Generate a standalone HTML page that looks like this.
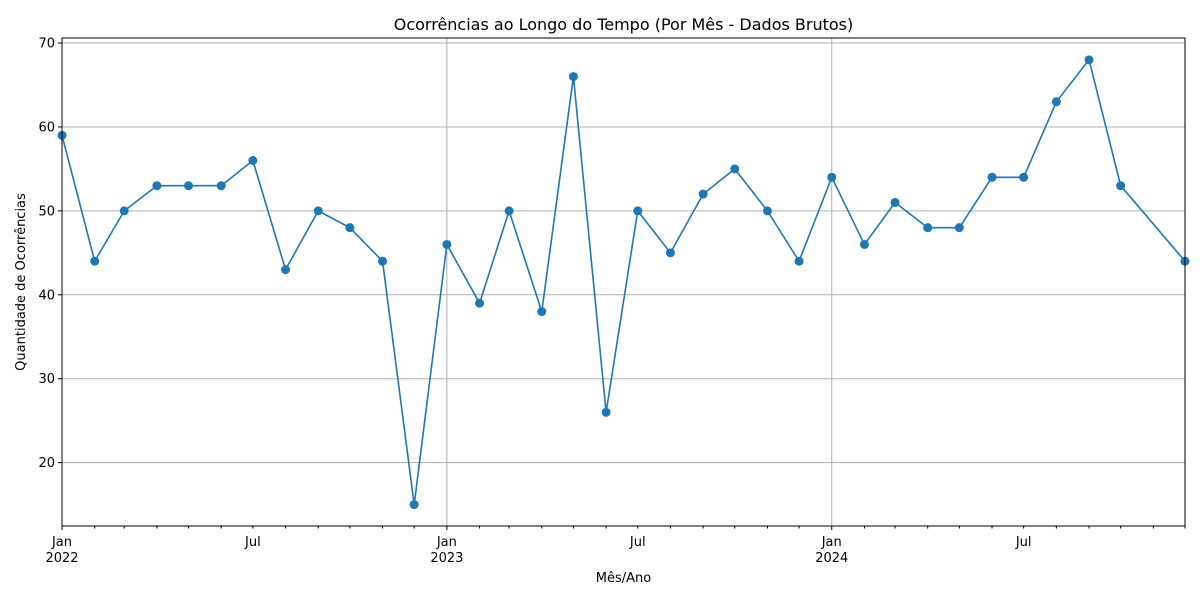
<!DOCTYPE html>
<html><head><meta charset="utf-8"><style>
html,body{margin:0;padding:0;background:#fff;}
svg{display:block;font-family:"DejaVu Sans","Liberation Sans",sans-serif;}
</style></head><body>
<svg id="chart" width="1200" height="600"></svg>
<script>
const months = ["2022-01","2022-02","2022-03","2022-04","2022-05","2022-06","2022-07","2022-08","2022-09","2022-10","2022-11","2022-12",
"2023-01","2023-02","2023-03","2023-04","2023-05","2023-06","2023-07","2023-08","2023-09","2023-10","2023-11","2023-12",
"2024-01","2024-02","2024-03","2024-04","2024-05","2024-06","2024-07","2024-08","2024-09","2024-10","2024-12"];
const counts = [59,44,50,53,53,53,56,43,50,48,44,15,46,39,50,38,66,26,50,45,52,55,50,44,54,46,51,48,48,54,54,63,68,53,44];
const yTicks = [20,30,40,50,60,70];
const majorTicks = [["2022-01","Jan","2022"],["2022-07","Jul",""],["2023-01","Jan","2023"],["2023-07","Jul",""],["2024-01","Jan","2024"],["2024-07","Jul",""]];

const NS="http://www.w3.org/2000/svg";
const svg=document.getElementById('chart');
const L=62,R=1185,T=38,B=526;
const d0=Date.UTC(2022,0,1), d1=Date.UTC(2024,11,1);
function dayOf(m){const [y,mo]=m.split('-').map(Number);return Date.UTC(y,mo-1,1);}
function x(m){return L+(dayOf(m)-d0)/(d1-d0)*(R-L);}
const yMin=12.45,yMax=70.6;
function y(v){return B-(v-yMin)/(yMax-yMin)*(B-T);}
function el(tag,attrs,txt){const e=document.createElementNS(NS,tag);for(const k in attrs)e.setAttribute(k,attrs[k]);if(txt!==undefined)e.textContent=txt;svg.appendChild(e);return e;}

// grid
yTicks.forEach(v=>{
  const g=el('line',{x1:L,x2:R,y1:y(v),y2:y(v),stroke:'#b0b0b0','stroke-width':1});
  
  
});
majorTicks.filter(t=>t[1]==='Jan'&&t[0]!=='2022-01').forEach(t=>{
  const g=el('line',{x1:x(t[0]),x2:x(t[0]),y1:T,y2:B,stroke:'#b0b0b0','stroke-width':1});
  
  
});

// line
const pts=months.map((m,i)=>x(m).toFixed(2)+','+y(counts[i]).toFixed(2)).join(' ');
const pl=el('polyline',{points:pts,fill:'none',stroke:'#1f77b4','stroke-width':1.6});


months.forEach((m,i)=>{
  const c=el('circle',{cx:x(m),cy:y(counts[i]),r:4.5,fill:'#1f77b4'});
  
  
});

// axes frame
const fr=el('rect',{x:L,y:T,width:R-L,height:B-T,fill:'none',stroke:'#000','stroke-width':1});



// y ticks
yTicks.forEach(v=>{
  const t=el('line',{x1:L-4,x2:L,y1:y(v),y2:y(v),stroke:'#000'});
  
  
  const lb=el('text',{x:L-7,y:y(v)+4.5,'text-anchor':'end','font-size':13,fill:'#000'},String(v));
  
  
});
// x minor ticks monthly
for(let i=0;i<36;i++){
  const yy=2022+Math.floor(i/12), mo=i%12+1;
  const m=yy+'-'+String(mo).padStart(2,'0');
  const xx=x(m); if(xx>R+0.5)break;
  const major=mo===1;
  const t=el('line',{x1:xx,x2:xx,y1:B,y2:B+(major?4:2.5),stroke:'#000'});
  
  
}
majorTicks.forEach(tk=>{
  const xx=x(tk[0]);
  const lb=el('text',{x:xx,y:B+20,'text-anchor':'middle','font-size':13,fill:'#000'},tk[1]);
  
  
  if(tk[2]){
    const yl=el('text',{x:xx,y:B+36,'text-anchor':'middle','font-size':13,fill:'#000'},tk[2]);
    
    
  }
});

const title=el('text',{x:(L+R)/2,y:30,'text-anchor':'middle','font-size':16,fill:'#000'},'Ocorrências ao Longo do Tempo (Por Mês - Dados Brutos)');


const xt=el('text',{x:(L+R)/2,y:582,'text-anchor':'middle','font-size':13,fill:'#000'},'Mês/Ano');


const yt=el('text',{x:0,y:0,'text-anchor':'middle','font-size':13,fill:'#000',transform:'translate(25,'+((T+B)/2)+') rotate(-90)'},'Quantidade de Ocorrências');


</script>
</body></html>
